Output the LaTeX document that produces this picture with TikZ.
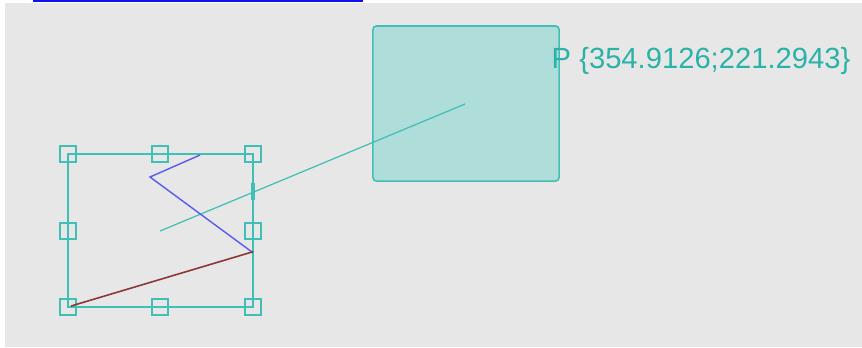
\documentclass[tikz,border=0pt]{standalone}
\usepackage{fontspec}
\setmainfont{Liberation Sans}
\definecolor{frameteal}{HTML}{40BFB6}
\definecolor{boxfill}{HTML}{AEDDDA}
\definecolor{labelteal}{HTML}{2AB2A9}
\definecolor{bggrey}{HTML}{E7E7E7}
\definecolor{linkblue}{HTML}{1010F0}
\definecolor{pathblue}{HTML}{5A5AEE}
\definecolor{pathred}{HTML}{8E3535}
\tikzset{
  handle/.style={draw=frameteal, line width=0.5pt, minimum size=0.155cm, inner sep=0pt},
  bigbox/.style={draw=frameteal, fill=boxfill, line width=0.45pt, rounded corners=1pt,
    minimum width=1.86cm, minimum height=1.55cm, inner sep=0pt},
}
\begin{document}
\begin{tikzpicture}[x=0.01cm,y=-0.01cm]
    \useasboundingbox (0,0) rectangle (862,347);
    \fill[bggrey] (5,3) rectangle (862,347);
    % link underline at the top
    \draw[linkblue, line width=0.6pt] (33,0.6)--(363,0.6);
    % selected shape
    \node[bigbox] (box) at (466,103.5) {};
    \node[anchor=west, text=labelteal, font=\fontsize{8.3pt}{10pt}\selectfont, xscale=1.0, inner sep=0pt] (plabel) at (551,61) {P \{354.9126;221.2943\}};
    % frame with handles
    \coordinate (tl) at (68,154);
    \coordinate (tr) at (253,154);
    \coordinate (bl) at (68,307);
    \coordinate (br) at (253,307);
    \draw[frameteal, line width=0.55pt] (tl) rectangle (br);
    \foreach \x/\y/\n in {68/154/nw,160/154/n,253/154/ne,68/231/w,253/231/e,68/307/sw,160/307/s,253/307/se}{
        \node[handle] (h\n) at (\x,\y) {};
    }
    % connector to the shape
    \coordinate (p) at (465,104);
    \coordinate (q) at (160,231);
    \draw[frameteal, line width=0.35pt] (q)--(p);
    \coordinate (k1) at (253,183);
    \coordinate (k2) at (253,200);
    \draw[frameteal, line width=0.9pt] (k1)--(k2);
    % path
    \coordinate (b1) at (200,155);
    \coordinate (b2) at (150,177);
    \coordinate (b3) at (252,252);
    \coordinate (b4) at (71,306);
    \draw[pathblue, line width=0.4pt] (b1)--(b2)--(b3);
    \draw[pathred, line width=0.45pt] (b3)--(b4);
    \fill[pathred] (b3) circle (1.3);
\end{tikzpicture}
\end{document}
